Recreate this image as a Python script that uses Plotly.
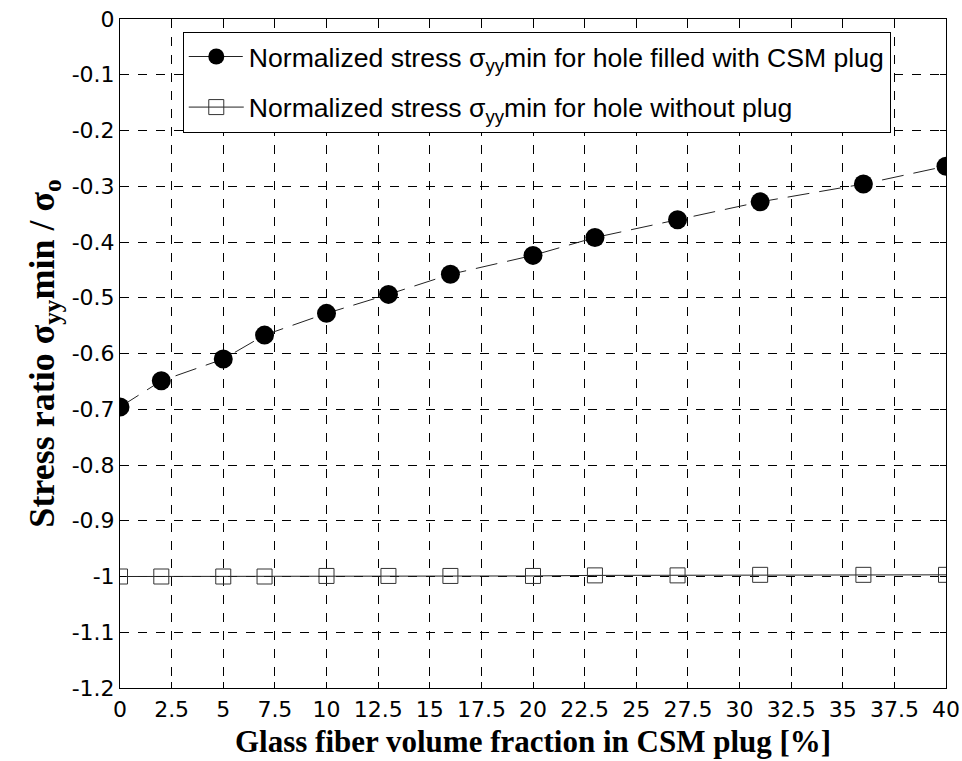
import plotly.graph_objects as go

x_plug = [0, 2, 5, 7, 10, 13, 16, 20, 23, 27, 31, 36, 40]
y_plug = [-0.696, -0.649, -0.610, -0.567, -0.528, -0.494, -0.458, -0.424, -0.392, -0.360, -0.328, -0.296, -0.264]
x_hole = [0, 2, 5, 7, 10, 13, 16, 20, 23, 27, 31, 36, 40]
y_hole = [-1.0, -1.0, -1.0, -1.0, -0.999, -0.999, -0.999, -0.999, -0.998, -0.998, -0.997, -0.997, -0.997]

x_ticks = [0, 2.5, 5, 7.5, 10, 12.5, 15, 17.5, 20, 22.5, 25, 27.5, 30, 32.5, 35, 37.5, 40]
x_ticktext = ["0", "2.5", "5", "7.5", "10", "12.5", "15", "17.5", "20", "22.5", "25", "27.5", "30", "32.5", "35", "37.5", "40"]
y_ticks = [0, -0.1, -0.2, -0.3, -0.4, -0.5, -0.6, -0.7, -0.8, -0.9, -1.0, -1.1, -1.2]
y_ticktext = ["0", "-0.1", "-0.2", "-0.3", "-0.4", "-0.5", "-0.6", "-0.7", "-0.8", "-0.9", "-1", "-1.1", "-1.2"]

x_title = "<b>Glass fiber volume fraction in CSM plug [%]</b>"
y_title = "<b>Stress ratio σ<sub>yy</sub>min / σ<sub>o</sub></b>"

fig = go.Figure()
fig.add_trace(go.Scatter(
    x=x_plug, y=y_plug, mode="lines+markers",
    name="Normalized stress σ<sub>yy</sub>min for hole filled with CSM plug",
    legendgroup="a",
    line=dict(color="#222222", width=1, dash="22px,10px"),
    marker=dict(symbol="circle", size=19, color="black"),
))
fig.add_trace(go.Scatter(
    x=x_hole, y=y_hole, mode="lines+markers",
    name="Normalized stress σ<sub>yy</sub>min for hole without plug",
    legendgroup="b",
    line=dict(color="#222222", width=1),
    marker=dict(symbol="square-open", size=15, color="#333333", line=dict(width=1)),
))

axis_common = dict(
    showline=True, linecolor="black", linewidth=1, mirror="ticks",
    ticks="inside", ticklen=6, tickcolor="black",
    showgrid=True, gridcolor="black", gridwidth=1, griddash="dash",
    zeroline=False, automargin=False,
    tickfont=dict(family="DejaVu Sans", size=22, color="black"),
)

fig.update_xaxes(
    range=[0, 40], tickmode="array", tickvals=x_ticks, ticktext=x_ticktext,
    ticklabelstandoff=2,
    **axis_common,
)
fig.update_yaxes(
    range=[-1.2, 0], tickmode="array", tickvals=y_ticks, ticktext=y_ticktext,
    title=dict(text=y_title,
               font=dict(family="Liberation Serif, Times New Roman", size=36, color="black"),
               standoff=6),
    **axis_common,
)

fig.add_annotation(
    text=x_title, xref="paper", yref="paper", x=0.5, y=-0.08,
    xanchor="center", yanchor="middle", showarrow=False,
    font=dict(family="Liberation Serif, Times New Roman", size=31, color="black"),
)

fig.update_layout(
    width=962, height=761,
    margin=dict(l=120, r=16, t=19, b=73),
    plot_bgcolor="white", paper_bgcolor="white",
    showlegend=True,
    legend=dict(
        x=0.076, y=0.981, xanchor="left", yanchor="top",
        bgcolor="white", bordercolor="black", borderwidth=1,
        font=dict(family="Liberation Sans, Arial", size=26.6, color="black"),
        itemwidth=55, traceorder="grouped", tracegroupgap=13,
    ),
)

fig.write_html("out.html")
